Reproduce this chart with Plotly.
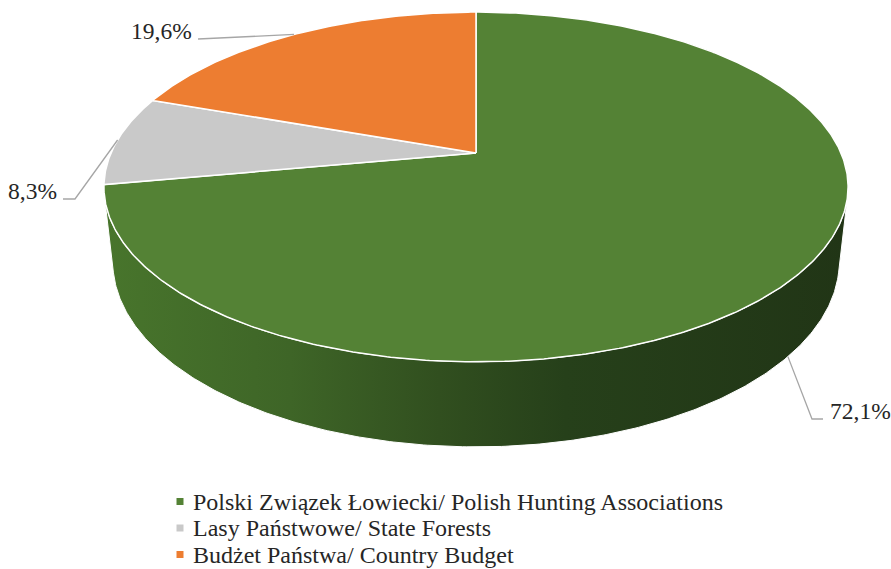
import numpy as np
import plotly.graph_objects as go

# ---- data ----
categories = ["Polski Związek Łowiecki/ Polish Hunting Associations",
              "Lasy Państwowe/ State Forests",
              "Budżet Państwa/ Country Budget"]
shares = [72.1, 8.3, 19.6]
colors = ["#548235", "#C9C9C9", "#ED7D31"]

# ---- layout / projection parameters (style, not data) ----
W, H = 891, 569
CX, CY = 476.0, 153.0        # projected pie centre (pixels)
F = 1668.0                   # focal scale
D = 4.57                     # camera distance (radius units)
S = 0.461                    # sin(tilt)
C = np.sqrt(1 - S * S)       # cos(tilt)
T = 0.233                    # pie thickness (radius units)
FONT = "Liberation Serif, Times New Roman, serif"
TXT = "#262626"

LEG_MARK_X, LEG_TEXT_X = 180, 191
LEG_Y0, LEG_DY = 501.5, 26.5


def proj(theta_deg, h=0.0):
    t = np.radians(np.asarray(theta_deg, dtype=float))
    sx, cz = np.sin(t), np.cos(t)
    depth = D - h * S + C * cz
    X = CX + F * sx / depth
    Y = CY - F * (h * C + S * cz) / depth
    return X, Y


fig = go.Figure()

# side wall (visible front part)
th_s = np.degrees(np.arccos(-1.0 / (D * C)))
th_e = 360 - th_s
arc = np.linspace(th_s, th_e, 300)
xt, yt = proj(arc, 0.0)
xb, yb = proj(arc[::-1], -T)
fig.add_trace(go.Scatter(
    x=np.concatenate([xt, xb, xt[:1]]), y=np.concatenate([yt, yb, yt[:1]]),
    mode="lines", fill="toself",
    fillgradient=dict(type="horizontal",
                      colorscale=[[0, "#48752c"], [0.25, "#3e6527"], [0.45, "#314f1f"],
                                  [0.62, "#26401a"], [1, "#213516"]]),
    line=dict(color="white", width=1), hoverinfo="skip", showlegend=False))

# top face slices
cum = np.concatenate([[0], np.cumsum(shares)]) / sum(shares) * 360
mids = []
for i, (cat, val, col) in enumerate(zip(categories, shares, colors)):
    a0, a1 = cum[i], cum[i + 1]
    th = np.linspace(a0, a1, max(int((a1 - a0) * 2), 4))
    ax_, ay_ = proj(th, 0.0)
    fig.add_trace(go.Scatter(
        x=np.concatenate([[CX], ax_, [CX]]), y=np.concatenate([[CY], ay_, [CY]]),
        mode="lines", fill="toself", fillcolor=col, name=cat,
        line=dict(color="white", width=1.5), hoverinfo="name", showlegend=False))
    mids.append((a0 + a1) / 2)

# data labels with leader lines
label_layout = [
    # (height on pie, elbow points, text pos, anchor)
    (-T, [(812, 419), (823, 419)], (828, 411), "left"),
    (0.0, [(75, 199), (63, 199)], (59, 191), "right"),
    (0.0, [(198, 39)], (194, 31), "right"),
]
for val, mid, (h, pts, tp, anc) in zip(shares, mids, label_layout):
    mx, my = proj(mid, h)
    xs = [float(mx)] + [p[0] for p in pts]
    ys = [float(my)] + [p[1] for p in pts]
    fig.add_trace(go.Scatter(x=xs, y=ys, mode="lines",
                             line=dict(color="#A6A6A6", width=1.3),
                             hoverinfo="skip", showlegend=False))
    fig.add_annotation(x=tp[0], y=tp[1], xref="x", yref="y",
                       text=f"{val:.1f}".replace(".", ",") + "%",
                       showarrow=False, xanchor=anc, yanchor="middle",
                       font=dict(family=FONT, size=23.5, color=TXT))

# legend (drawn as key markers + text, compact Excel-style spacing)
leg_y = [LEG_Y0 + i * LEG_DY for i in range(len(categories))]
fig.add_trace(go.Scatter(x=[LEG_MARK_X] * len(categories), y=leg_y, mode="markers",
                         marker=dict(symbol="square", size=7, color=colors),
                         text=categories, hoverinfo="text", showlegend=False))
for cat, y in zip(categories, leg_y):
    fig.add_annotation(x=LEG_TEXT_X, y=y, xref="x", yref="y", text=cat,
                       showarrow=False, xanchor="left", yanchor="middle",
                       font=dict(family=FONT, size=24, color=TXT))

fig.update_layout(
    width=W, height=H, margin=dict(l=0, r=0, t=0, b=0, autoexpand=False),
    paper_bgcolor="white", plot_bgcolor="white",
    xaxis=dict(range=[0, W], visible=False, fixedrange=True),
    yaxis=dict(range=[H, 0], visible=False, fixedrange=True),
    showlegend=False,
)

fig.write_html("out.html")
